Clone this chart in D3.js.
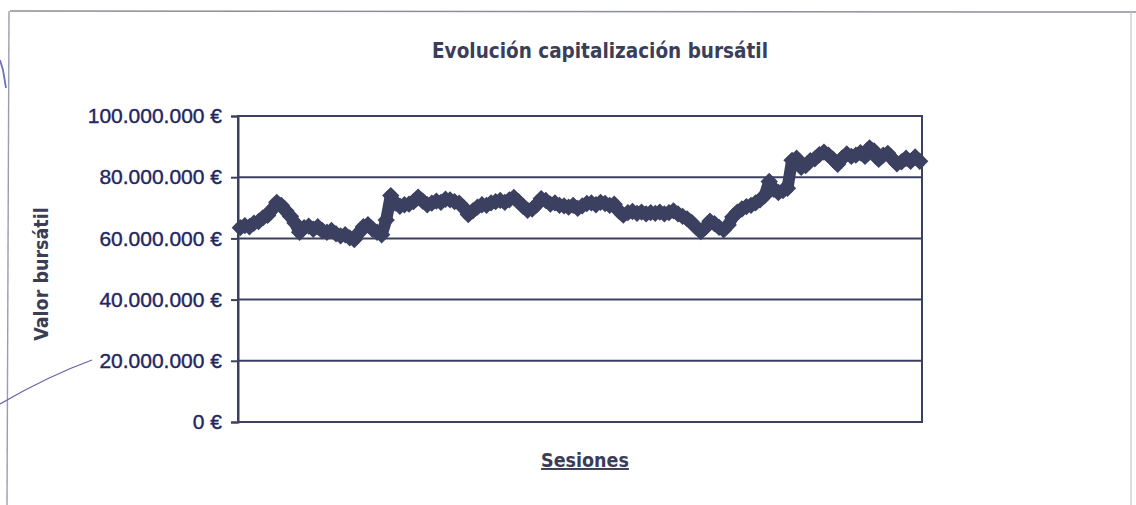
<!DOCTYPE html>
<html>
<head>
<meta charset="utf-8">
<script src="https://cdn.jsdelivr.net/npm/d3@7"></script>
<style>
  html, body { margin: 0; padding: 0; background: #fff; }
  svg { display: block; }
</style>
</head>
<body>
<svg id="chart" width="1136" height="505"></svg>
<script>
// Market capitalisation per trading session, in millions of euros
const sessionValuesM = [
  63.5, 64.2, 63.8, 65.0, 65.5, 66.8, 67.5, 69.5, 71.8, 70.8,
  69.0, 67.2, 65.0, 62.0, 63.5, 64.0, 63.0, 63.8, 62.5, 62.0,
  62.6, 61.5, 60.8, 61.2, 60.2, 59.6, 61.8, 63.8, 64.5, 63.0,
  62.0, 61.2, 66.0, 74.0, 71.5, 70.5, 71.0, 71.2, 72.0, 73.5,
  72.2, 71.0, 71.5, 72.2, 71.8, 72.8, 72.6, 72.0, 71.5, 70.0,
  67.8, 69.0, 70.2, 71.0, 70.8, 71.6, 72.0, 72.4, 71.8, 72.6,
  73.4, 72.0, 70.5, 69.2, 69.6, 71.0, 73.0, 72.4, 71.2, 71.6,
  70.8, 70.6, 70.2, 70.8, 69.8, 70.6, 71.4, 71.6, 71.0, 71.8,
  71.4, 70.8, 71.2, 69.0, 67.6, 68.4, 68.8, 68.2, 68.6, 68.0,
  68.4, 68.2, 68.6, 68.0, 68.4, 69.0, 68.0, 67.2, 66.4, 65.2,
  63.6, 62.2, 63.6, 65.6, 64.8, 63.6, 62.8, 64.4, 67.0, 68.6,
  69.6, 70.4, 70.8, 71.6, 72.6, 74.0, 78.6, 76.0, 75.0, 75.6,
  76.4, 85.5, 86.2, 83.2, 83.8, 85.4, 86.0, 87.4, 88.2, 87.2,
  85.8, 84.2, 86.2, 87.6, 86.8, 87.2, 88.0, 86.8, 89.6, 88.6,
  85.8, 87.2, 87.8, 86.0, 84.4, 85.0, 86.2, 85.2, 86.6, 85.2
];
const yTickValues = [0, 20000000, 40000000, 60000000, 80000000, 100000000];
const titleText = "Evolución capitalización bursátil";
const yTitleText = "Valor bursátil";
const xTitleText = "Sesiones";

const sessions = sessionValuesM.map((v, i) => ({ session: i + 1, value: v * 1e6 }));

const svg = d3.select("#chart");
const ink = "#3c4060";
const labelInk = "#1f2762";

const plot = { left: 238, right: 922, top: 116, bottom: 422 };

// Paper edges and pen marks around the printed chart
const paper = svg.append("g").attr("fill", "none");
paper.append("line").attr("x1", 10).attr("y1", 11).attr("x2", 1136).attr("y2", 12)
  .attr("stroke", "#8c8e98").attr("stroke-width", 1.5);
paper.append("line").attr("x1", 9).attr("y1", 11).attr("x2", 7).attr("y2", 505)
  .attr("stroke", "#9a9cb4").attr("stroke-width", 1.4);
paper.append("line").attr("x1", 1131).attr("y1", 12).attr("x2", 1131).attr("y2", 505)
  .attr("stroke", "#c4c5cc").attr("stroke-width", 1.2);
paper.append("path").attr("d", "M0,404 Q48,376 92,360")
  .attr("stroke", "#6a5fa6").attr("stroke-width", 1.3);
paper.append("path").attr("d", "M0,60 L3,70 L6,88")
  .attr("stroke", "#6c74c4").attr("stroke-width", 1.8);

const x = d3.scalePoint()
  .domain(sessions.map(d => d.session))
  .range([plot.left, plot.right])
  .padding(0.5);

const y = d3.scaleLinear()
  .domain([0, 100000000])
  .range([plot.bottom, plot.top]);

const es = d3.formatLocale({
  decimal: ",", thousands: ".", grouping: [3], currency: ["", "\u00a0€"]
});
const fmt = es.format("$,.0f");

// Horizontal gridlines
svg.append("g")
  .selectAll("line")
  .data(yTickValues.filter(v => v > 0 && v < 100000000))
  .join("line")
  .attr("x1", plot.left).attr("x2", plot.right)
  .attr("y1", d => y(d)).attr("y2", d => y(d))
  .attr("stroke", ink).attr("stroke-width", 2);

// Plot frame
svg.append("rect")
  .attr("x", plot.left).attr("y", plot.top)
  .attr("width", plot.right - plot.left).attr("height", plot.bottom - plot.top)
  .attr("fill", "none").attr("stroke", ink).attr("stroke-width", 2);

// Y axis with euro labels
const yAxis = svg.append("g")
  .attr("transform", `translate(${plot.left},0)`)
  .call(d3.axisLeft(y).tickValues(yTickValues).tickFormat(fmt).tickSize(7).tickPadding(9));
yAxis.select(".domain").attr("stroke", ink).attr("stroke-width", 2);
yAxis.selectAll(".tick line").attr("stroke", ink).attr("stroke-width", 2);
yAxis.selectAll(".tick text")
  .attr("fill", labelInk)
  .attr("font-family", "'Liberation Sans', Arial, sans-serif")
  .attr("font-size", 21)
  .attr("stroke", labelInk)
  .attr("stroke-width", 0.4);

// Capitalisation series: thick line with overlapping diamond markers
svg.append("path")
  .datum(sessions)
  .attr("fill", "none")
  .attr("stroke", ink)
  .attr("stroke-width", 12)
  .attr("stroke-linejoin", "round")
  .attr("stroke-linecap", "round")
  .attr("d", d3.line().x(d => x(d.session)).y(d => y(d.value)));

const diamond = d3.symbol().type(d3.symbolSquare).size(150);
svg.append("g")
  .selectAll("path")
  .data(sessions)
  .join("path")
  .attr("d", diamond)
  .attr("transform", d => `translate(${x(d.session)},${y(d.value)}) rotate(45)`)
  .attr("fill", ink);

// Titles
svg.append("text")
  .attr("x", 600).attr("y", 58)
  .attr("text-anchor", "middle")
  .attr("font-family", "'DejaVu Sans Condensed', 'DejaVu Sans', sans-serif")
  .attr("font-weight", "bold")
  .attr("font-size", 20.5)
  .attr("fill", "#3b3e58")
  .text(titleText);

svg.append("text")
  .attr("transform", "translate(48,274) rotate(-90)")
  .attr("text-anchor", "middle")
  .attr("font-family", "'DejaVu Sans Condensed', 'DejaVu Sans', sans-serif")
  .attr("font-weight", "bold")
  .attr("font-size", 19.5)
  .attr("fill", "#3a3d55")
  .text(yTitleText);

svg.append("text")
  .attr("x", 585).attr("y", 467)
  .attr("text-anchor", "middle")
  .attr("font-family", "'DejaVu Sans Condensed', 'DejaVu Sans', sans-serif")
  .attr("font-weight", "bold")
  .attr("font-size", 19.5)
  .attr("text-decoration", "underline")
  .attr("fill", "#3a3d55")
  .text(xTitleText);
</script>
</body>
</html>
